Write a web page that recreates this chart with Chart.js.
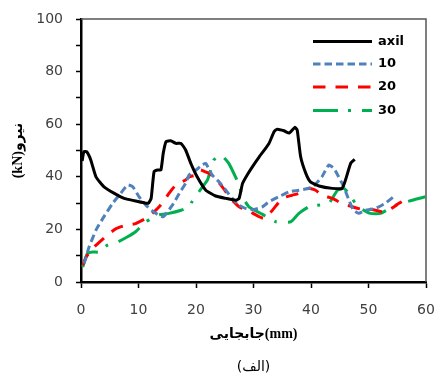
<!DOCTYPE html>
<html><head><meta charset="utf-8">
<script src="https://cdn.jsdelivr.net/npm/chart.js@4/dist/chart.umd.min.js"></script>
<style>html,body{margin:0;padding:0;background:#fff}#wrap{width:440px;height:377px}</style>
</head><body><div id="wrap"><canvas id="c" width="440" height="377"></canvas></div>
<script>
const seriesNames = ['axil', '10', '20', '30'];

const axilX = [0.2, 0.5, 1.0, 1.7, 2.6, 4.0, 5.8, 7.5, 9.3, 11.0, 11.7, 12.2, 12.7, 13.3, 13.9, 14.3, 14.8, 15.6, 16.5, 17.4, 18.2, 19.1, 20.2, 21.7, 23.4, 25.2, 26.9, 27.5, 28.1, 28.9, 29.8, 31.0, 32.1, 32.7, 33.6, 34.1, 35.3, 36.2, 37.2, 37.6, 38.2, 39.1, 39.9, 41.4, 43.7, 45.4, 46.0, 46.9, 47.6];
const axilY = [46.0, 49.6, 49.5, 46.4, 40.0, 36.2, 33.7, 31.8, 30.9, 30.1, 29.9, 31.8, 41.9, 42.6, 42.6, 48.9, 53.4, 53.7, 52.7, 52.7, 50.2, 45.1, 40.0, 34.9, 32.7, 31.8, 31.1, 31.8, 37.5, 40.7, 43.8, 47.6, 50.8, 52.7, 57.2, 58.1, 57.5, 56.6, 58.8, 57.8, 47.6, 41.3, 38.1, 36.5, 35.6, 35.6, 38.8, 45.1, 46.6];

const s10X = [0.5, 0.9, 1.4, 2.6, 3.8, 5.5, 6.9, 8.1, 9.0, 10.1, 11.3, 13.0, 14.2, 14.5, 15.9, 17.1, 18.2, 18.8, 20.0, 21.1, 21.7, 22.8, 24.0, 25.2, 26.3, 27.5, 28.6, 30.0, 31.5, 32.7, 34.4, 36.2, 37.9, 40.2, 41.9, 43.1, 44.0, 44.8, 45.7, 46.6, 47.4, 48.3, 49.5, 51.2, 52.9, 54.7];
const s10Y = [7.0, 9.5, 13.3, 19.7, 24.2, 29.9, 33.7, 36.9, 36.2, 32.4, 29.2, 26.1, 24.8, 25.2, 29.2, 33.7, 37.5, 40.7, 42.6, 44.5, 45.1, 40.7, 38.1, 34.9, 31.8, 29.2, 28.0, 27.5, 28.5, 30.5, 32.4, 34.3, 34.9, 36.0, 40.0, 44.5, 43.2, 40.0, 36.2, 31.1, 27.3, 26.1, 27.3, 28.0, 29.9, 33.0];

const s20X = [0.3, 0.9, 2.0, 3.2, 4.9, 6.1, 7.8, 9.5, 11.3, 12.4, 13.6, 14.5, 15.3, 16.5, 18.2, 18.8, 20.0, 20.8, 21.5, 22.3, 23.4, 24.3, 25.2, 26.0, 27.5, 28.9, 31.0, 31.8, 33.3, 35.0, 36.7, 37.9, 39.6, 40.8, 41.9, 43.7, 45.4, 47.2, 48.9, 50.6, 52.4, 53.5, 55.3, 56.4];
const s20Y = [6.4, 9.5, 12.7, 15.2, 18.4, 20.3, 21.6, 22.2, 24.2, 26.1, 28.6, 31.1, 33.7, 36.9, 38.8, 40.0, 40.7, 42.6, 42.0, 41.3, 39.4, 36.9, 34.3, 31.8, 28.6, 27.3, 24.8, 24.2, 27.3, 31.8, 33.0, 33.7, 35.6, 34.9, 33.0, 31.8, 29.9, 28.6, 27.6, 27.6, 26.7, 27.3, 29.9, 31.4];

const s30X = [0.3, 1.1, 2.0, 3.2, 4.6, 6.4, 8.1, 9.5, 11.3, 13.3, 15.3, 17.4, 18.8, 19.3, 20.5, 22.0, 23.1, 24.3, 25.7, 27.5, 28.1, 29.2, 31.5, 33.9, 36.5, 37.9, 39.6, 41.1, 43.1, 44.6, 45.7, 46.6, 47.7, 48.6, 50.3, 52.1, 54.7, 57.6, 59.9];
const s30Y = [5.7, 10.8, 11.4, 11.4, 14.0, 15.2, 17.2, 19.1, 22.9, 25.4, 26.1, 27.3, 28.6, 30.5, 34.3, 38.8, 46.4, 48.3, 45.1, 36.9, 32.4, 28.6, 25.8, 22.9, 22.9, 26.1, 28.6, 29.2, 29.9, 34.9, 35.6, 33.7, 29.9, 28.0, 26.1, 26.1, 29.2, 31.1, 32.4];

const xTickValues = [0, 10, 20, 30, 40, 50, 60];
const yTickValues = [0, 20, 40, 60, 80, 100];
const xAxisTitle = 'جابجایی(mm)';
const yAxisTitle = '(kN)نیرو';
const caption = '(الف)';

function pts(xs, ys) { return xs.map((x, i) => ({ x: x, y: ys[i] })); }

const frame = {
  id: 'frame',
  beforeDatasetsDraw(chart) {
    const a = chart.chartArea, ctx = chart.ctx;
    ctx.save();
    ctx.strokeStyle = '#555';
    ctx.lineWidth = 1.5;
    ctx.beginPath();
    ctx.moveTo(a.left, a.top);
    ctx.lineTo(a.right, a.top);
    ctx.lineTo(a.right, a.bottom);
    ctx.stroke();
    ctx.restore();
  }
};

const insideLegend = {
  id: 'insideLegend',
  afterDatasetsDraw(chart) {
    const a = chart.chartArea, ctx = chart.ctx;
    const x1 = a.right - 113, x2 = a.right - 54, tx = a.right - 48;
    const rows = [22.5, 45, 68, 91.5];
    ctx.save();
    chart.data.datasets.forEach((ds, i) => {
      const y = a.top + rows[i];
      ctx.strokeStyle = ds.borderColor;
      ctx.lineWidth = ds.borderWidth;
      ctx.setLineDash(ds.borderDash || []);
      ctx.lineCap = 'butt';
      ctx.beginPath();
      ctx.moveTo(x1, y);
      ctx.lineTo(x2, y);
      ctx.stroke();
      ctx.setLineDash([]);
      ctx.fillStyle = '#000';
      ctx.font = 'bold 13px "DejaVu Sans"';
      ctx.textBaseline = 'middle';
      ctx.textAlign = 'left';
      ctx.fillText(ds.label, tx, y);
    });
    ctx.restore();
  }
};

const tickFont = { family: '"DejaVu Sans"', size: 14 };
const titleFont = { family: '"Liberation Serif", "DejaVu Sans"', size: 14, weight: 'bold' };

new Chart(document.getElementById('c'), {
  type: 'scatter',
  data: {
    datasets: [
      { label: seriesNames[0], data: pts(axilX, axilY), borderColor: '#000000', borderWidth: 3, borderDash: [] },
      { label: seriesNames[1], data: pts(s10X, s10Y), borderColor: '#4F81BD', borderWidth: 3, borderDash: [7.5, 4] },
      { label: seriesNames[2], data: pts(s20X, s20Y), borderColor: '#FF0000', borderWidth: 3, borderDash: [12.5, 10] },
      { label: seriesNames[3], data: pts(s30X, s30Y), borderColor: '#00B050', borderWidth: 3, borderDash: [25, 10, 3, 11] }
    ].map(d => Object.assign(d, { showLine: true, pointRadius: 0, pointHoverRadius: 0, tension: 0.15, fill: false, borderJoinStyle: 'round' }))
  },
  options: {
    responsive: false,
    devicePixelRatio: 1,
    animation: false,
    layout: { padding: { left: 0, top: 19, right: 14, bottom: 0 } },
    plugins: {
      legend: { display: false },
      tooltip: { enabled: false },
      title: {
        display: true, text: caption, position: 'bottom', fullSize: false,
        font: { family: '"DejaVu Sans"', size: 14, weight: 'normal' }, color: '#000',
        padding: { top: 0, bottom: 1 }
      }
    },
    scales: {
      x: {
        type: 'linear', min: 0, max: 60,
        afterBuildTicks(s) { s.ticks = xTickValues.map(v => ({ value: v })); },
        afterFit(s) { s.height = 77.2; s.paddingLeft = 0; s.paddingRight = 0; },
        ticks: { font: tickFont, color: '#404040', padding: 14, maxRotation: 0 },
        grid: { drawOnChartArea: false, drawTicks: true, tickLength: 6, color: '#000', tickWidth: 1.5 },
        border: { display: true, color: '#000', width: 2.5 },
        title: { display: true, text: xAxisTitle, font: titleFont, color: '#000', padding: { top: 0, bottom: 16.8 } }
      },
      y: {
        type: 'linear', min: 0, max: 100,
        ticks: {
          stepSize: 10, font: tickFont, color: '#404040', padding: 13,
          callback: v => (yTickValues.includes(v) ? String(v) : '')
        },
        afterFit(s) { s.width = 81; s.paddingTop = 0; s.paddingBottom = 0; },
        grid: { drawOnChartArea: false, drawTicks: true, tickLength: 5, color: '#000', tickWidth: 1.5 },
        border: { display: true, color: '#000', width: 2.5 },
        title: { display: true, text: yAxisTitle, font: titleFont, color: '#000', padding: { top: 10, bottom: 0 } }
      }
    }
  },
  plugins: [frame, insideLegend]
});
</script>
</body></html>
